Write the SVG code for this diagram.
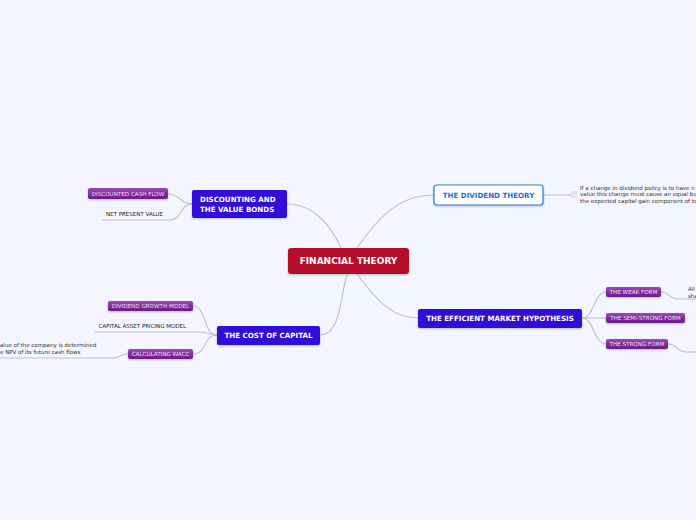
<svg xmlns="http://www.w3.org/2000/svg" width="696" height="520" viewBox="0 0 696 520">
<defs>
<linearGradient id="pg" x1="0" y1="0" x2="0" y2="1">
<stop offset="0" stop-color="#9a48b4"/>
<stop offset="1" stop-color="#6b1a88"/>
</linearGradient>
<filter id="sh" x="-10%" y="-20%" width="120%" height="150%">
<feDropShadow dx="0" dy="1" stdDeviation="0.8" flood-color="#000" flood-opacity="0.25"/>
</filter>
</defs>
<style>
.c{fill:none;stroke:#bcc0cc;stroke-width:1.1}
.m{font-family:"DejaVu Sans",Verdana,sans-serif;font-weight:bold;fill:#fff}
.p{fill:url(#pg);filter:url(#sh)}
.pt{font-family:"DejaVu Sans",Verdana,sans-serif;font-size:5.6px;fill:#f2dcf2}
.t{font-family:"DejaVu Sans",Verdana,sans-serif;font-size:5.5px;fill:#222}
.n{font-family:"DejaVu Sans",Verdana,sans-serif;font-size:5.5px;fill:#333}
</style>
<rect width="696" height="520" fill="#f3f6fe"/>
<g id="connectors">
<path class="c" d="M341,248 C332,228 315,204 287,204"/>
<path class="c" d="M357,248 C380,215 400,195 434,195"/>
<path class="c" d="M357,274 C380,305 395,318 418,318"/>
<path class="c" d="M347,274 C340,300 340,335 320,335"/>
<path class="c" d="M192,204 C180,204 180,194 168,194"/>
<path class="c" d="M192,204 C180,204 182,220 170,220 L102,220"/>
<path class="c" d="M217,335 C203,335 207,306 193,306"/>
<path class="c" d="M217,335 C208,335 210,332 200,332 L95,332"/>
<path class="c" d="M217,335 C203,335 207,354 193,354"/>
<path class="c" d="M128,354 C118,354 122,358 112,358 L0,358"/>
<path class="c" d="M582,318 C594,318 594,292 606,292"/>
<path class="c" d="M582,318 L606,318"/>
<path class="c" d="M582,318 C594,318 594,344 606,344"/>
<path class="c" d="M661,292 C670,292 668,299 678,299 L696,299"/>
<path class="c" d="M668,344 C678,344 676,352 686,352 L696,352"/>
<path class="c" d="M543,195 L571,195"/>
</g>
<g id="financial-theory">
<rect x="288" y="248" width="121" height="26" rx="3" fill="#b30b2b" filter="url(#sh)"/>
<text class="m" x="348.5" y="264.2" font-size="9" text-anchor="middle">FINANCIAL THEORY</text>
</g>
<g id="discounting">
<rect x="192" y="190" width="95" height="28" rx="2" fill="#300cd8" filter="url(#sh)"/>
<text class="m" x="200" y="202" font-size="7.1">DISCOUNTING AND</text>
<text class="m" x="200" y="211.5" font-size="7.1">THE VALUE BONDS</text>
</g>
<g id="dividend-theory">
<rect x="434" y="185" width="109" height="20" rx="3" fill="#fff" stroke="#2b7fd8" stroke-width="1.2" filter="url(#sh)"/>
<text class="m" x="488.5" y="197.5" font-size="7.1" text-anchor="middle" style="fill:#1a6fcf">THE DIVIDEND THEORY</text>
</g>
<g id="emh">
<rect x="418" y="309" width="164" height="19" rx="2" fill="#300cd8" filter="url(#sh)"/>
<text class="m" x="500" y="321" font-size="7.1" text-anchor="middle">THE EFFICIENT MARKET HYPOTHESIS</text>
</g>
<g id="cost-of-capital">
<rect x="217" y="326" width="103" height="19" rx="2" fill="#300cd8" filter="url(#sh)"/>
<text class="m" x="268.5" y="338" font-size="7.1" text-anchor="middle">THE COST OF CAPITAL</text>
</g>
<g id="dcf">
<rect class="p" x="88" y="188" width="80" height="11" rx="2"/>
<text class="pt" x="128" y="195.6" text-anchor="middle">DISCOUNTED CASH FLOW</text>
</g>
<g id="npv">
<text class="t" x="106" y="216">NET PRESENT VALUE</text>
</g>
<g id="dgm">
<rect class="p" x="108" y="301" width="85" height="10" rx="2"/>
<text class="pt" x="150.5" y="308" text-anchor="middle">DIVIDEND GROWTH MODEL</text>
</g>
<g id="capm">
<text class="t" x="98.5" y="328">CAPITAL ASSET PRICING MODEL</text>
</g>
<g id="wacc">
<rect class="p" x="128" y="349" width="65" height="10" rx="2"/>
<text class="pt" x="160.5" y="356" text-anchor="middle">CALCULATING WACC</text>
</g>
<g id="wacc-note">
<text class="n" x="0" y="347">alue of the company is determined</text>
<text class="n" x="0" y="354">e NPV of its future cash flows</text>
</g>
<g id="weak-form">
<rect class="p" x="606" y="287" width="55" height="10" rx="2"/>
<text class="pt" x="633.5" y="294" text-anchor="middle">THE WEAK FORM</text>
</g>
<g id="weak-note">
<text class="n" x="688" y="291">All</text>
<text class="n" x="688" y="298">sha</text>
</g>
<g id="semi-strong-form">
<rect class="p" x="606" y="313" width="79" height="10" rx="2"/>
<text class="pt" x="645.5" y="320" text-anchor="middle">THE SEMI-STRONG FORM</text>
</g>
<g id="strong-form">
<rect class="p" x="606" y="339" width="62" height="10" rx="2"/>
<text class="pt" x="637" y="346" text-anchor="middle">THE STRONG FORM</text>
</g>
<g id="dividend-note">
<rect x="571" y="191.5" width="6" height="6" rx="1" fill="#e4e6ec" stroke="#cfd2da" stroke-width="0.5"/>
<text class="n" x="580" y="189.5">If a change in dividend policy is to have n</text>
<text class="n" x="580" y="196">value this change must cause an equal bu</text>
<text class="n" x="580" y="202.5">the expected capital gain component of to</text>
</g>
</svg>
